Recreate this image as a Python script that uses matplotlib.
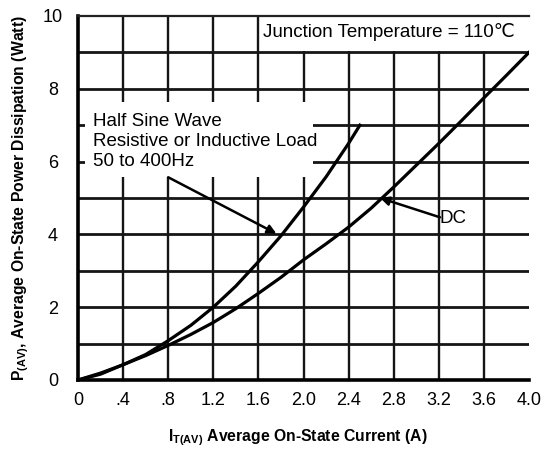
import matplotlib
matplotlib.use("Agg")
import matplotlib.pyplot as plt
from matplotlib.patches import Rectangle

plt.rcParams['font.family'] = ['Liberation Sans', 'DejaVu Sans', 'Noto Sans CJK SC']
plt.rcParams['mathtext.fontset'] = 'custom'
plt.rcParams['mathtext.rm'] = 'Liberation Sans'
plt.rcParams['mathtext.bf'] = 'Liberation Sans:bold'
plt.rcParams['mathtext.it'] = 'Liberation Sans:italic'

# Data
half_sine_current = [0.0, 0.2, 0.4, 0.6, 0.8, 1.0, 1.2, 1.4, 1.6, 1.8, 2.0, 2.2, 2.4, 2.5]
half_sine_power = [0.0, 0.16, 0.42, 0.7, 1.08, 1.5, 2.0, 2.58, 3.25, 3.96, 4.75, 5.58, 6.5, 7.0]

dc_current = [0.0, 0.2, 0.4, 0.6, 0.8, 1.0, 1.2, 1.4, 1.6, 1.8, 2.0, 2.2, 2.4, 2.6, 2.8,
              3.0, 3.2, 3.4, 3.6, 3.8, 4.0]
dc_power = [0.0, 0.19, 0.42, 0.67, 0.95, 1.25, 1.58, 1.96, 2.38, 2.82, 3.3, 3.74, 4.2, 4.72,
            5.3, 5.9, 6.5, 7.12, 7.75, 8.37, 9.0]

x_ticks = [0, 0.4, 0.8, 1.2, 1.6, 2.0, 2.4, 2.8, 3.2, 3.6, 4.0]
x_tick_labels = ['0', '.4', '.8', '1.2', '1.6', '2.0', '2.4', '2.8', '3.2', '3.6', '4.0']
y_ticks = [0, 2, 4, 6, 8, 10]
y_tick_labels = ['0', '2', '4', '6', '8', '10']
v_grid = [0.4, 0.8, 1.2, 1.6, 2.0, 2.4, 2.8, 3.2, 3.6]
h_grid = [1, 2, 3, 4, 5, 6, 7, 8, 9]

fig = plt.figure(figsize=(5.47, 4.54), dpi=100)
ax = fig.add_axes([78/547, 1-380/454, 451/547, 364/454])
ax.set_xlim(0, 4.0)
ax.set_ylim(0, 10)

gc = '#151515'
for xv in v_grid:
    ax.axvline(xv, color=gc, lw=1.7, zorder=1)
for yv in h_grid:
    ax.axhline(yv, color=gc, lw=2.0, zorder=1)

# white label boxes
ax.add_patch(Rectangle((1.62, 9.04), 2.5, 0.96, facecolor='white', edgecolor='none', zorder=2))
ax.add_patch(Rectangle((0.06, 5.57), 2.02, 2.06, facecolor='white', edgecolor='none', zorder=2))

ax.plot(half_sine_current, half_sine_power, color='black', lw=2.3, zorder=3)
ax.plot(dc_current, dc_power, color='black', lw=2.3, zorder=3)

ax.text(1.64, 9.57, 'Junction Temperature = 110\u2103', fontsize=13.5, ha='left', va='center', zorder=4)
ax.text(0.135, 6.55, 'Half Sine Wave\nResistive or Inductive Load\n50 to 400Hz', fontsize=13.5,
        ha='left', va='center', linespacing=1.22, zorder=4)
ax.text(3.21, 4.45, 'DC', fontsize=13.5, ha='left', va='center', zorder=4)

arrow = dict(arrowstyle='-|>', color='black', lw=1.8, mutation_scale=13, shrinkA=0, shrinkB=0)
ax.annotate('', xy=(1.76, 4.02), xytext=(0.8, 5.57), arrowprops=arrow, zorder=4)
ax.annotate('', xy=(2.68, 5.0), xytext=(3.21, 4.47), arrowprops=arrow, zorder=4)

for s in ['left', 'bottom']:
    ax.spines[s].set_linewidth(2.6)
    ax.spines[s].set_color('black')
ax.spines['top'].set_linewidth(1.6)
ax.spines['top'].set_color('#222222')
ax.spines['right'].set_visible(False)

ax.set_xticks(x_ticks)
ax.set_xticklabels(x_tick_labels)
ax.set_yticks(y_ticks)
ax.set_yticklabels(y_tick_labels, ha='center')
ax.tick_params(axis='both', length=0, labelsize=13)
ax.tick_params(axis='x', pad=8.5)
ax.tick_params(axis='y', pad=18)

ax.set_xlabel(r'$\mathbf{I_{T(AV)}}$ Average On-State Current (A)', fontsize=11.3, fontweight='bold')
ax.xaxis.set_label_coords(0.487, -0.13)
ax.set_ylabel(r'$\mathbf{P_{(AV)}}$, Average On-State Power Dissipation (Watt)', fontsize=11.3, fontweight='bold')
ax.yaxis.set_label_coords(-0.105, 0.5)

fig.savefig('out.png', dpi=100)
